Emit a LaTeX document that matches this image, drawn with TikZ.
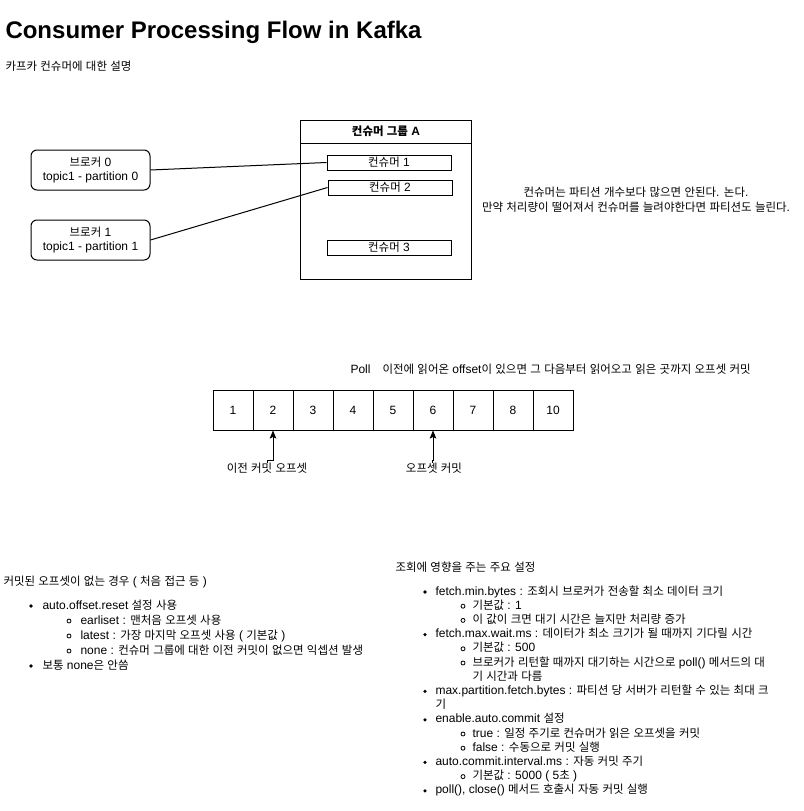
\documentclass[tikz,border=0pt]{standalone}
\usepackage{fontspec}
\setmainfont{Liberation Sans}
\newfontfamily\krfont{Noto Sans CJK KR}[Scale=0.955]
\usetikzlibrary{arrows.meta}
\XeTeXinterchartokenstate=1
\newXeTeXintercharclass\KRclass
\newcount\krc
\krc="AC00
\loop\XeTeXcharclass\krc=\KRclass \ifnum\krc<"D7A3 \advance\krc by 1 \repeat
\krc="3131
\loop\XeTeXcharclass\krc=\KRclass \ifnum\krc<"318E \advance\krc by 1 \repeat
\XeTeXinterchartoks 0 \KRclass={\krfont}
\XeTeXinterchartoks 4095 \KRclass={\krfont}
\XeTeXinterchartoks \KRclass 0={\rmfamily}
\XeTeXinterchartoks \KRclass 4095={\rmfamily}
\newcommand\fs{\fontsize{12pt}{14.5pt}\selectfont}
\tikzset{
  txt/.style={inner sep=0pt, text height=9pt, text depth=3pt, font=\fs},
  lt/.style={txt, anchor=west},
  broker/.style={draw, rounded corners=6pt, minimum width=119pt, minimum height=40pt, align=center, font=\fs, inner sep=0pt},
  cons/.style={draw, minimum width=124pt, minimum height=15pt, inner sep=0pt, font=\fs},
  cell/.style={draw, minimum width=40pt, minimum height=40pt, inner sep=0pt, font=\fs},
  conn/.style={draw},
  arr/.style={draw, -{Stealth[length=8pt,width=6.5pt,inset=1.5pt]}},
  ringb/.style={draw, line width=0.8pt},
}
\begin{document}
\begin{tikzpicture}[x=1pt,y=-1pt,line width=1pt]
\useasboundingbox (0,0) rectangle (803,811);
% title
\node[anchor=base west, inner sep=0pt, font=\fontsize{24pt}{28pt}\selectfont\bfseries] (title) at (5,38) {Consumer Processing Flow in Kafka};
\node[lt] (sub) at (5,67) {카프카 컨슈머에 대한 설명};
% group
\draw (300.5,120.5) rectangle (471.5,279.5);
\draw (300.5,143) -- (471.5,143);
\node[txt, font=\fs\bfseries] (ghead) at (386,132) {컨슈머 그룹 A};
\node[cons] (k1) at (389,162.5) {컨슈머 1};
\node[cons] (k2) at (390,187.5) {컨슈머 2};
\node[cons] (k3) at (389,247.5) {컨슈머 3};
% brokers
\node[broker] (b0) at (90.5,170) {브로커 0\\topic1 - partition 0};
\node[broker] (b1) at (90.5,240) {브로커 1\\topic1 - partition 1};
\draw[conn] (b0.east) -- (k1.west);
\draw[conn] (b1.east) -- (k2.west);
% note
\node[txt] (n1) at (636,193) {컨슈머는 파티션 개수보다 많으면 안된다. 논다.};
\node[txt] (n2) at (636,208) {만약 처리량이 떨어져서 컨슈머를 늘려야한다면 파티션도 늘린다.};
% poll
\node[lt] (poll) at (350,370) {Poll\hspace{12pt}이전에 읽어온 offset이 있으면 그 다음부터 읽어오고 읽은 곳까지 오프셋 커밋};
% cells
\node[cell] (c1) at (233,410) {1};
\node[cell] (c2) at (273,410) {2};
\node[cell] (c3) at (313,410) {3};
\node[cell] (c4) at (353,410) {4};
\node[cell] (c5) at (393,410) {5};
\node[cell] (c6) at (433,410) {6};
\node[cell] (c7) at (473,410) {7};
\node[cell] (c8) at (513,410) {8};
\node[cell] (c9) at (553,410) {10};
\node[txt] (l1) at (267,469) {이전 커밋 오프셋};
\node[txt] (l2) at (434,469) {오프셋 커밋};
\draw[arr] (l1.north) -- ++(0,-2) -| (c2.south);
\draw[arr] ([xshift=-2pt]l2.north) -- ++(0,-2) -| (c6.south);
% left list
\node[lt] (la) at (3,582) {커밋된 오프셋이 없는 경우 ( 처음 접근 등 )};
\fill (31,606) circle (1.8);
\node[lt] (la1) at (42,606) {auto.offset.reset 설정 사용};
\draw[ringb] (69,621) circle (2);
\node[lt] (la2) at (80,621) {earliset : 맨처음 오프셋 사용};
\draw[ringb] (69,636) circle (2);
\node[lt] (la3) at (80,636) {latest : 가장 마지막 오프셋 사용 ( 기본값 )};
\draw[ringb] (69,651) circle (2);
\node[lt] (la4) at (80,651) {none : 컨슈머 그룹에 대한 이전 커밋이 없으면 익셉션 발생};
\fill (31,666) circle (1.8);
\node[lt] (la5) at (42,666) {보통 none은 안씀};
% right list
\node[lt] (ra) at (395,568) {조회에 영향을 주는 주요 설정};
\fill (425,592) circle (1.8);
\node[lt] (r1) at (435,592) {fetch.min.bytes : 조회시 브로커가 전송할 최소 데이터 크기};
\draw[ringb] (463,606.2) circle (2);
\node[lt] (r2) at (472,606.2) {기본값 : 1};
\draw[ringb] (463,620.4) circle (2);
\node[lt] (r3) at (472,620.4) {이 값이 크면 대기 시간은 늘지만 처리량 증가};
\fill (425,634.6) circle (1.8);
\node[lt] (r4) at (435,634.6) {fetch.max.wait.ms : 데이터가 최소 크기가 될 때까지 기다릴 시간};
\draw[ringb] (463,648.8) circle (2);
\node[lt] (r5) at (472,648.8) {기본값 : 500};
\draw[ringb] (463,663) circle (2);
\node[lt] (r6) at (472,663) {브로커가 리턴할 때까지 대기하는 시간으로 poll() 메서드의 대};
\node[lt] (r6b) at (472,677.2) {기 시간과 다름};
\fill (425,691.4) circle (1.8);
\node[lt] (r7) at (435,691.4) {max.partition.fetch.bytes : 파티션 당 서버가 리턴할 수 있는 최대 크};
\node[lt] (r7b) at (435,705.6) {기};
\fill (425,719.8) circle (1.8);
\node[lt] (r8) at (435,719.8) {enable.auto.commit 설정};
\draw[ringb] (463,734) circle (2);
\node[lt] (r9) at (472,734) {true : 일정 주기로 컨슈머가 읽은 오프셋을 커밋};
\draw[ringb] (463,748.2) circle (2);
\node[lt] (r10) at (472,748.2) {false : 수동으로 커밋 실행};
\fill (425,762.4) circle (1.8);
\node[lt] (r11) at (435,762.4) {auto.commit.interval.ms : 자동 커밋 주기};
\draw[ringb] (463,776.6) circle (2);
\node[lt] (r12) at (472,776.6) {기본값 : 5000 ( 5초 )};
\fill (425,790.8) circle (1.8);
\node[lt] (r13) at (435,790.8) {poll(), close() 메서드 호출시 자동 커밋 실행};
\end{tikzpicture}
\end{document}
